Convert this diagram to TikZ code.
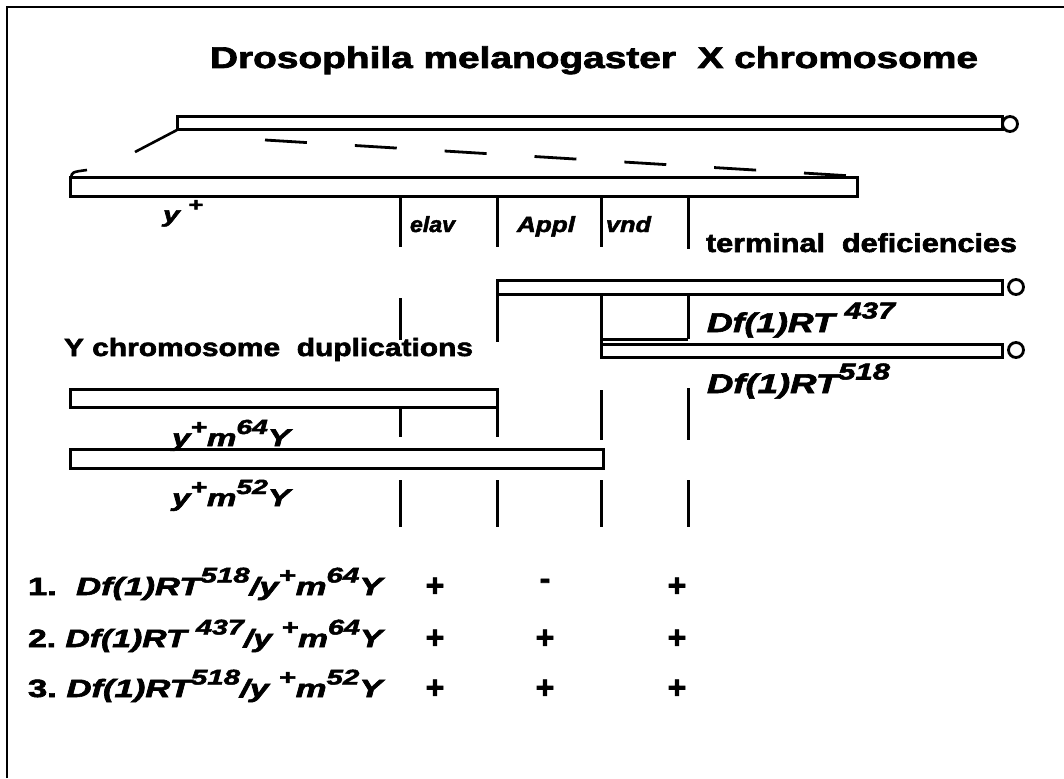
\documentclass[tikz,border=0pt]{standalone}
\usepackage{fontspec}
\setmainfont{Liberation Sans}[BoldFeatures={FakeBold=2.2},BoldItalicFeatures={FakeBold=2.2}]
\usepackage{graphicx}
\newcommand\fitw[2]{\resizebox{#1pt}{\height}{#2}}
\newcommand\hsup[1]{\raisebox{0.5em}{\scalebox{0.85}{#1}}}
\newcommand\fsz[1]{\fontsize{#1}{#1}\selectfont}
\begin{document}
\begin{tikzpicture}[x=1pt,y=-1pt,
  bar/.style={draw=black, fill=white, line width=3pt},
  sep/.style={line width=3pt},
  lbl/.style={anchor=base west, inner sep=0pt, outer sep=0pt, font=\bfseries},
  endcap/.style={circle, draw, fill=white, line width=2.8pt, minimum size=15pt, inner sep=0pt},
  pm/.style={inner sep=0pt, font=\bfseries\fsz{32}}]
\useasboundingbox (0,0) rectangle (1064,778);
\draw[line width=2.8pt] (7,778) -- (7,7) -- (1064,7);
% title
\node[lbl] (title) at (210,68) {\fitw{768}{\fsz{30}Drosophila melanogaster\ \ X chromosome}};
% X chromosome
\draw[bar] (177,117) rectangle (1002,130);
\node[endcap] (capX) at (1010,124) {};
\draw[line width=2.6pt] (177,130) -- (135,152);
\draw[line width=2.8pt, dash pattern=on 42pt off 48pt] (265,140) -- (852,176);
\draw[bar] (70,177) rectangle (857,196);
\draw[line width=2.6pt] (71,178) .. controls (72,172) .. (87,170);
% separators
\draw[sep] (400,196) -- (400,247);
\draw[sep] (497,196) -- (497,247);
\draw[sep] (601,196) -- (601,247);
\draw[sep] (688,196) -- (688,249);
\node[lbl] (yplus) at (163,222) {\fitw{40}{\fsz{22}\itshape y \hsup{+}}};
\node[lbl] (elav) at (410,232) {\fitw{45}{\fsz{22}\itshape elav}};
\node[lbl] (appl) at (517,232) {\fitw{58}{\fsz{22}\itshape Appl}};
\node[lbl] (vnd) at (606,232) {\fitw{45}{\fsz{22}\itshape vnd}};
\node[lbl] (term) at (706,252) {\fitw{311}{\fsz{26}terminal\ \ deficiencies}};
% deficiencies
\draw[bar] (497,280) rectangle (1002,294);
\node[endcap] (cap437) at (1016,287) {};
\draw[sep] (497,294) -- (497,342);
\draw[sep] (400,298) -- (400,340);
\draw[sep] (601,294) -- (601,344);
\draw[sep] (601,339) -- (688,339);
\draw[sep] (688,294) -- (688,339);
\draw[bar] (601,344) rectangle (1002,357);
\node[endcap] (cap518) at (1016,350) {};
\node[lbl] (df437) at (707,332) {\fitw{188}{\fsz{27}\itshape Df(1)RT \hsup{437}}};
\node[lbl] (df518) at (707,393) {\fitw{183}{\fsz{27}\itshape Df(1)RT\hsup{518}}};
% Y duplications
\node[lbl] (ydup) at (64,356) {\fitw{409}{\fsz{25}Y chromosome\ \ duplications}};
\draw[bar] (70,389) rectangle (497,407);
\draw[bar] (70,449) rectangle (603,468);
\draw[sep] (400,407) -- (400,437);
\draw[sep] (497,407) -- (497,437);
\draw[sep] (601,390) -- (601,440);
\draw[sep] (688,388) -- (688,440);
\draw[sep] (400,480) -- (400,527);
\draw[sep] (497,480) -- (497,527);
\draw[sep] (601,480) -- (601,527);
\draw[sep] (688,480) -- (688,527);
\node[lbl] (dup64) at (172,446) {\fitw{118}{\fsz{24}\itshape y\hsup{+}m\hsup{64}Y}};
\node[lbl] (dup52) at (172,506) {\fitw{118}{\fsz{24}\itshape y\hsup{+}m\hsup{52}Y}};
% rows
\node[lbl] (r1) at (28,595) {\fitw{357}{\fsz{25}1.\ \ \textit{Df(1)RT\hsup{518}/y\hsup{+}m\hsup{64}Y}}};
\node[lbl] (r2) at (28,647) {\fitw{357}{\fsz{25}2.\ \textit{Df(1)RT \hsup{437}/y \hsup{+}m\hsup{64}Y}}};
\node[lbl] (r3) at (28,697) {\fitw{357}{\fsz{25}3.\ \textit{Df(1)RT\hsup{518}/y \hsup{+}m\hsup{52}Y}}};
\node[pm] (r1a) at (435,587) {+};
\node[pm] (r1b) at (545,584) {-};
\node[pm] (r1c) at (677,587) {+};
\node[pm] (r2a) at (435,639) {+};
\node[pm] (r2b) at (545,639) {+};
\node[pm] (r2c) at (677,639) {+};
\node[pm] (r3a) at (435,689) {+};
\node[pm] (r3b) at (545,689) {+};
\node[pm] (r3c) at (677,689) {+};
\end{tikzpicture}
\end{document}
